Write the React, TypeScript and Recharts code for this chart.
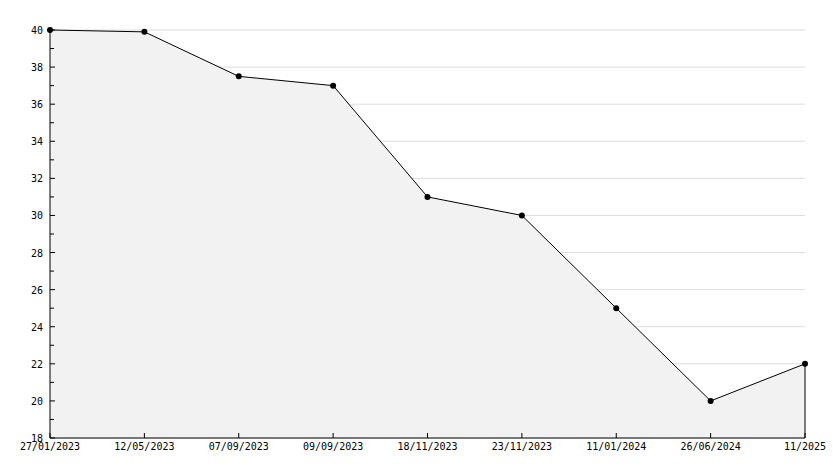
import { AreaChart, Area, XAxis, YAxis, CartesianGrid, ReferenceLine } from 'recharts';

const dates = [
  '27/01/2023',
  '12/05/2023',
  '07/09/2023',
  '09/09/2023',
  '18/11/2023',
  '23/11/2023',
  '11/01/2024',
  '26/06/2024',
  '11/2025',
];
const values = [40, 39.9, 37.5, 37, 31, 30, 25, 20, 22];
const yTicks = [18, 19, 20, 21, 22, 23, 24, 25, 26, 27, 28, 29, 30, 31, 32, 33, 34, 35, 36, 37, 38, 39, 40];

const data = dates.map((d, i) => ({ date: d, value: values[i] }));
const font = '"DejaVu Sans Mono", monospace';

function YTick(props: any) {
  const { x, y, payload } = props;
  const major = payload.value % 2 === 0;
  return (
    <g>
      <line x1={x} y1={y} x2={x + (major ? 5 : 4)} y2={y} stroke="#000" />
      {major && (
        <text x={x - 7} y={y + 4} textAnchor="end" fontSize={10} fontFamily={font} fill="#000">
          {payload.value}
        </text>
      )}
    </g>
  );
}

function XTick(props: any) {
  const { x, y, payload } = props;
  return (
    <g>
      <line x1={x} y1={y} x2={x} y2={y - 5} stroke="#000" />
      <text x={x} y={y + 12} textAnchor="middle" fontSize={10} fontFamily={font} fill="#000">
        {payload.value}
      </text>
    </g>
  );
}

// only every second tick (the even values) gets a grid line
function GridLine(props: any) {
  const { x1, y1, x2, y2, index } = props;
  if (index % 2 !== 0) return <g />;
  return <line x1={x1} y1={y1} x2={x2} y2={y2} stroke="#dddddd" strokeWidth={1} />;
}

export default function App() {
  const last = dates[dates.length - 1];
  return (
    <div style={{ position: 'absolute', left: 0, top: 0, background: '#fff' }}>
      <AreaChart width={834} height={468} data={data} margin={{ top: 30, right: 29, bottom: 0, left: 0 }}>
        <CartesianGrid vertical={false} yAxisId="main" horizontal={(p: any) => <GridLine key={p.key} {...p} />} />
        <XAxis
          dataKey="date"
          height={30}
          interval={0}
          tickSize={0}
          tickMargin={0}
          tickLine={false}
          axisLine={{ stroke: '#000' }}
          tick={<XTick />}
        />
        <YAxis
          yAxisId="main"
          width={50}
          domain={[18, 40]}
          ticks={yTicks}
          interval={0}
          tickSize={0}
          tickMargin={0}
          tickLine={false}
          axisLine={{ stroke: '#000' }}
          tick={<YTick />}
        />
        <Area
          yAxisId="main"
          type="linear"
          dataKey="value"
          stroke="#000"
          strokeWidth={1}
          fill="#f2f2f2"
          fillOpacity={1}
          dot={{ r: 3, fill: '#000', stroke: '#000', strokeWidth: 0 }}
          activeDot={false}
          isAnimationActive={false}
        />
        <ReferenceLine
          yAxisId="main"
          segment={[{ x: last, y: values[values.length - 1] }, { x: last, y: 18 }]}
          stroke="#000"
        />
      </AreaChart>
    </div>
  );
}
